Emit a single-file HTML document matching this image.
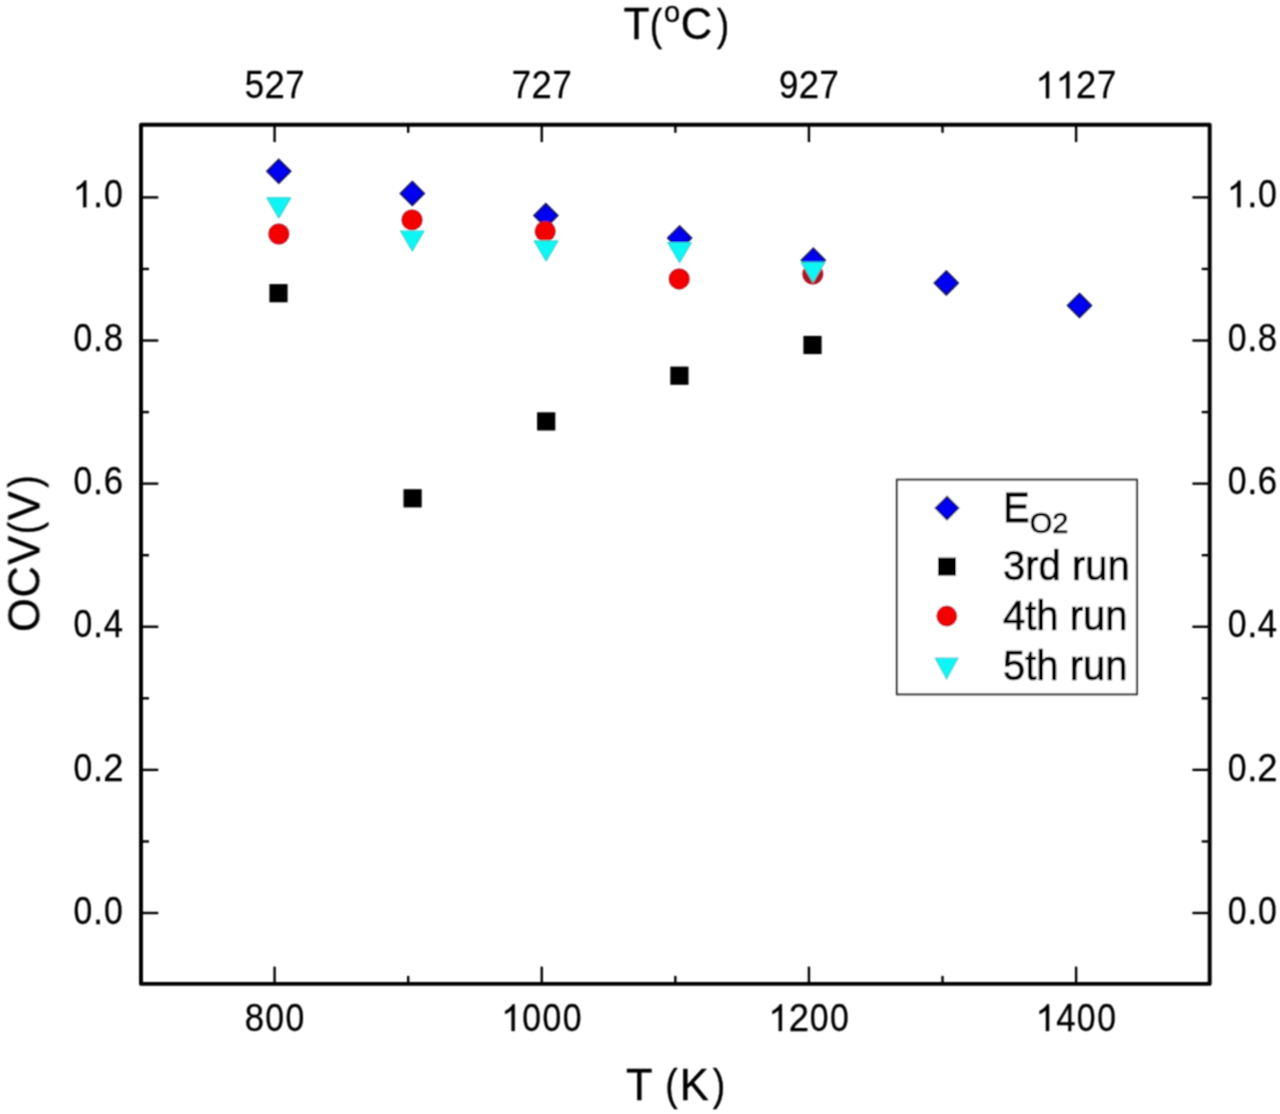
<!DOCTYPE html>
<html><head><meta charset="utf-8"><title>OCV vs T</title>
<style>
html,body{margin:0;padding:0;background:#fff;}
body{width:1280px;height:1114px;overflow:hidden;font-family:"Liberation Sans",sans-serif;}
svg{display:block;}
</style></head><body>
<svg width="1280" height="1114" viewBox="0 0 1280 1114">
<defs><filter id="bl" x="0" y="0" width="1280" height="1114" filterUnits="userSpaceOnUse"><feConvolveMatrix order="3" kernelMatrix="1 2 1 2 4 2 1 2 1" edgeMode="none"/></filter></defs>
<rect width="1280" height="1114" fill="#fff"/>
<g filter="url(#bl)">
<g font-family="Liberation Sans, sans-serif" fill="#000" stroke="#000" stroke-width="0.7">
<g font-size="36.5" stroke-width="0.25">
<g transform="translate(244.14,1031.00) scale(1,1.05)"><text transform="translate(10.15,0) scale(0.95,1)" text-anchor="middle">8</text><text transform="translate(30.45,0) scale(0.925,1)" text-anchor="middle">0</text><text transform="translate(50.75,0) scale(0.925,1)" text-anchor="middle">0</text></g>
<g transform="translate(244.14,98.20) scale(1,1.05)"><text transform="translate(10.15,0) scale(0.95,1)" text-anchor="middle">5</text><text transform="translate(30.45,0) scale(1.0,1)" text-anchor="middle">2</text><text transform="translate(50.75,0) scale(0.95,1)" text-anchor="middle">7</text></g>
<g transform="translate(501.16,1031.00) scale(1,1.05)"><path transform="translate(0.00,0) scale(0.01782,-0.01782)" stroke-width="14.0" d="M763 0L583 0L583 1114C540 1074 483 1035 413 995C342 955 279 925 223 904L223 1073C324 1119 412 1175 487 1241C562 1306 615 1369 646 1430L763 1430Z"/><text transform="translate(30.45,0) scale(0.925,1)" text-anchor="middle">0</text><text transform="translate(50.75,0) scale(0.925,1)" text-anchor="middle">0</text><text transform="translate(71.05,0) scale(0.925,1)" text-anchor="middle">0</text></g>
<g transform="translate(511.31,98.20) scale(1,1.05)"><text transform="translate(10.15,0) scale(0.95,1)" text-anchor="middle">7</text><text transform="translate(30.45,0) scale(1.0,1)" text-anchor="middle">2</text><text transform="translate(50.75,0) scale(0.95,1)" text-anchor="middle">7</text></g>
<g transform="translate(768.34,1031.00) scale(1,1.05)"><path transform="translate(0.00,0) scale(0.01782,-0.01782)" stroke-width="14.0" d="M763 0L583 0L583 1114C540 1074 483 1035 413 995C342 955 279 925 223 904L223 1073C324 1119 412 1175 487 1241C562 1306 615 1369 646 1430L763 1430Z"/><text transform="translate(30.45,0) scale(1.0,1)" text-anchor="middle">2</text><text transform="translate(50.75,0) scale(0.925,1)" text-anchor="middle">0</text><text transform="translate(71.05,0) scale(0.925,1)" text-anchor="middle">0</text></g>
<g transform="translate(778.49,98.20) scale(1,1.05)"><text transform="translate(10.15,0) scale(0.95,1)" text-anchor="middle">9</text><text transform="translate(30.45,0) scale(1.0,1)" text-anchor="middle">2</text><text transform="translate(50.75,0) scale(0.95,1)" text-anchor="middle">7</text></g>
<g transform="translate(1035.51,1031.00) scale(1,1.05)"><path transform="translate(0.00,0) scale(0.01782,-0.01782)" stroke-width="14.0" d="M763 0L583 0L583 1114C540 1074 483 1035 413 995C342 955 279 925 223 904L223 1073C324 1119 412 1175 487 1241C562 1306 615 1369 646 1430L763 1430Z"/><text transform="translate(30.45,0) scale(0.95,1)" text-anchor="middle">4</text><text transform="translate(50.75,0) scale(0.925,1)" text-anchor="middle">0</text><text transform="translate(71.05,0) scale(0.925,1)" text-anchor="middle">0</text></g>
<g transform="translate(1035.51,98.20) scale(1,1.05)"><path transform="translate(0.00,0) scale(0.01782,-0.01782)" stroke-width="14.0" d="M763 0L583 0L583 1114C540 1074 483 1035 413 995C342 955 279 925 223 904L223 1073C324 1119 412 1175 487 1241C562 1306 615 1369 646 1430L763 1430Z"/><path transform="translate(20.30,0) scale(0.01782,-0.01782)" stroke-width="14.0" d="M763 0L583 0L583 1114C540 1074 483 1035 413 995C342 955 279 925 223 904L223 1073C324 1119 412 1175 487 1241C562 1306 615 1369 646 1430L763 1430Z"/><text transform="translate(50.75,0) scale(1.0,1)" text-anchor="middle">2</text><text transform="translate(71.05,0) scale(0.95,1)" text-anchor="middle">7</text></g>
<g transform="translate(72.76,924.10) scale(1,1.05)"><text transform="translate(10.15,0) scale(0.925,1)" text-anchor="middle">0</text><text transform="translate(25.37,0) scale(1.0,1)" text-anchor="middle">.</text><text transform="translate(40.59,0) scale(0.925,1)" text-anchor="middle">0</text></g>
<g transform="translate(1226.90,924.10) scale(1,1.05)"><text transform="translate(10.15,0) scale(0.925,1)" text-anchor="middle">0</text><text transform="translate(25.37,0) scale(1.0,1)" text-anchor="middle">.</text><text transform="translate(40.59,0) scale(0.925,1)" text-anchor="middle">0</text></g>
<g transform="translate(72.76,780.72) scale(1,1.05)"><text transform="translate(10.15,0) scale(0.925,1)" text-anchor="middle">0</text><text transform="translate(25.37,0) scale(1.0,1)" text-anchor="middle">.</text><text transform="translate(40.59,0) scale(1.0,1)" text-anchor="middle">2</text></g>
<g transform="translate(1226.90,780.72) scale(1,1.05)"><text transform="translate(10.15,0) scale(0.925,1)" text-anchor="middle">0</text><text transform="translate(25.37,0) scale(1.0,1)" text-anchor="middle">.</text><text transform="translate(40.59,0) scale(1.0,1)" text-anchor="middle">2</text></g>
<g transform="translate(72.76,637.34) scale(1,1.05)"><text transform="translate(10.15,0) scale(0.925,1)" text-anchor="middle">0</text><text transform="translate(25.37,0) scale(1.0,1)" text-anchor="middle">.</text><text transform="translate(40.59,0) scale(0.95,1)" text-anchor="middle">4</text></g>
<g transform="translate(1226.90,637.34) scale(1,1.05)"><text transform="translate(10.15,0) scale(0.925,1)" text-anchor="middle">0</text><text transform="translate(25.37,0) scale(1.0,1)" text-anchor="middle">.</text><text transform="translate(40.59,0) scale(0.95,1)" text-anchor="middle">4</text></g>
<g transform="translate(72.76,493.96) scale(1,1.05)"><text transform="translate(10.15,0) scale(0.925,1)" text-anchor="middle">0</text><text transform="translate(25.37,0) scale(1.0,1)" text-anchor="middle">.</text><text transform="translate(40.59,0) scale(0.95,1)" text-anchor="middle">6</text></g>
<g transform="translate(1226.90,493.96) scale(1,1.05)"><text transform="translate(10.15,0) scale(0.925,1)" text-anchor="middle">0</text><text transform="translate(25.37,0) scale(1.0,1)" text-anchor="middle">.</text><text transform="translate(40.59,0) scale(0.95,1)" text-anchor="middle">6</text></g>
<g transform="translate(72.76,350.58) scale(1,1.05)"><text transform="translate(10.15,0) scale(0.925,1)" text-anchor="middle">0</text><text transform="translate(25.37,0) scale(1.0,1)" text-anchor="middle">.</text><text transform="translate(40.59,0) scale(0.95,1)" text-anchor="middle">8</text></g>
<g transform="translate(1226.90,350.58) scale(1,1.05)"><text transform="translate(10.15,0) scale(0.925,1)" text-anchor="middle">0</text><text transform="translate(25.37,0) scale(1.0,1)" text-anchor="middle">.</text><text transform="translate(40.59,0) scale(0.95,1)" text-anchor="middle">8</text></g>
<g transform="translate(72.76,207.20) scale(1,1.05)"><path transform="translate(0.00,0) scale(0.01782,-0.01782)" stroke-width="14.0" d="M763 0L583 0L583 1114C540 1074 483 1035 413 995C342 955 279 925 223 904L223 1073C324 1119 412 1175 487 1241C562 1306 615 1369 646 1430L763 1430Z"/><text transform="translate(25.37,0) scale(1.0,1)" text-anchor="middle">.</text><text transform="translate(40.59,0) scale(0.925,1)" text-anchor="middle">0</text></g>
<g transform="translate(1226.90,207.20) scale(1,1.05)"><path transform="translate(0.00,0) scale(0.01782,-0.01782)" stroke-width="14.0" d="M763 0L583 0L583 1114C540 1074 483 1035 413 995C342 955 279 925 223 904L223 1073C324 1119 412 1175 487 1241C562 1306 615 1369 646 1430L763 1430Z"/><text transform="translate(25.37,0) scale(1.0,1)" text-anchor="middle">.</text><text transform="translate(40.59,0) scale(0.925,1)" text-anchor="middle">0</text></g>
</g>
<g stroke-width="0.35">
<g transform="translate(0,39.3) scale(1,1.04)" font-size="43.5"><text transform="translate(636.40,0) scale(0.98,1)" x="-13.28" y="0">T</text><text transform="translate(657.00,1.0) scale(0.86,0.97)" x="-8.46" y="0">(</text><text transform="translate(696.70,0) scale(1.0,1)" x="-15.98" y="0">C</text><text transform="translate(721.90,1.0) scale(0.86,0.97)" x="-6.02" y="0">)</text></g>
<g transform="translate(0,21.5) scale(1,1.04)" font-size="29"><text transform="translate(672.00,0) scale(1.0,1)" x="-8.06" y="0">o</text></g>
<g transform="translate(0,1099.8) scale(1,1.04)" font-size="43.5"><text transform="translate(639.40,0) scale(1.0,1)" x="-13.28" y="0">T</text><text transform="translate(672.60,0) scale(0.86,1)" x="-8.46" y="0">(</text><text transform="translate(695.90,0) scale(1.0,1)" x="-16.05" y="0">K</text><text transform="translate(718.00,0) scale(0.86,1)" x="-6.02" y="0">)</text></g>
<g transform="rotate(-90) translate(0,39.0) scale(1,1.04)" font-size="43.5"><text transform="translate(-615.10,0) scale(1.0,1)" x="-16.91" y="0">O</text><text transform="translate(-581.50,0) scale(1.0,1)" x="-15.98" y="0">C</text><text transform="translate(-550.20,0) scale(1.0,1)" x="-14.51" y="0">V</text><text transform="translate(-527.00,0) scale(0.86,1)" x="-8.46" y="0">(</text><text transform="translate(-505.80,0) scale(1.0,1)" x="-14.51" y="0">V</text><text transform="translate(-482.60,0) scale(0.86,1)" x="-6.02" y="0">)</text></g>
</g>
</g>
<g stroke="#000" stroke-width="2.4">
<rect x="141.0" y="124.8" width="1068.70" height="859.10" fill="none" stroke="#000" stroke-width="3.9" stroke-linejoin="round"/>
<line x1="274.59" y1="983.9" x2="274.59" y2="966.6"/>
<line x1="274.59" y1="124.8" x2="274.59" y2="142.1"/>
<line x1="408.18" y1="983.9" x2="408.18" y2="975.9"/>
<line x1="408.18" y1="124.8" x2="408.18" y2="132.8"/>
<line x1="541.76" y1="983.9" x2="541.76" y2="966.6"/>
<line x1="541.76" y1="124.8" x2="541.76" y2="142.1"/>
<line x1="675.35" y1="983.9" x2="675.35" y2="975.9"/>
<line x1="675.35" y1="124.8" x2="675.35" y2="132.8"/>
<line x1="808.94" y1="983.9" x2="808.94" y2="966.6"/>
<line x1="808.94" y1="124.8" x2="808.94" y2="142.1"/>
<line x1="942.52" y1="983.9" x2="942.52" y2="975.9"/>
<line x1="942.52" y1="124.8" x2="942.52" y2="132.8"/>
<line x1="1076.11" y1="983.9" x2="1076.11" y2="966.6"/>
<line x1="1076.11" y1="124.8" x2="1076.11" y2="142.1"/>
<line x1="141.0" y1="913.00" x2="158.3" y2="913.00"/>
<line x1="1209.7" y1="913.00" x2="1192.4" y2="913.00"/>
<line x1="141.0" y1="841.44" x2="149.0" y2="841.44"/>
<line x1="1209.7" y1="841.44" x2="1201.7" y2="841.44"/>
<line x1="141.0" y1="769.88" x2="158.3" y2="769.88"/>
<line x1="1209.7" y1="769.88" x2="1192.4" y2="769.88"/>
<line x1="141.0" y1="698.32" x2="149.0" y2="698.32"/>
<line x1="1209.7" y1="698.32" x2="1201.7" y2="698.32"/>
<line x1="141.0" y1="626.76" x2="158.3" y2="626.76"/>
<line x1="1209.7" y1="626.76" x2="1192.4" y2="626.76"/>
<line x1="141.0" y1="555.20" x2="149.0" y2="555.20"/>
<line x1="1209.7" y1="555.20" x2="1201.7" y2="555.20"/>
<line x1="141.0" y1="483.64" x2="158.3" y2="483.64"/>
<line x1="1209.7" y1="483.64" x2="1192.4" y2="483.64"/>
<line x1="141.0" y1="412.08" x2="149.0" y2="412.08"/>
<line x1="1209.7" y1="412.08" x2="1201.7" y2="412.08"/>
<line x1="141.0" y1="340.52" x2="158.3" y2="340.52"/>
<line x1="1209.7" y1="340.52" x2="1192.4" y2="340.52"/>
<line x1="141.0" y1="268.96" x2="149.0" y2="268.96"/>
<line x1="1209.7" y1="268.96" x2="1201.7" y2="268.96"/>
<line x1="141.0" y1="197.40" x2="158.3" y2="197.40"/>
<line x1="1209.7" y1="197.40" x2="1192.4" y2="197.40"/>
</g>
<path d="M278.80 159.50L290.60 171.30L278.80 183.10L267.00 171.30Z" fill="#0404f2" stroke="#101060" stroke-width="1.7"/>
<path d="M412.30 181.60L424.10 193.40L412.30 205.20L400.50 193.40Z" fill="#0404f2" stroke="#101060" stroke-width="1.7"/>
<path d="M545.90 203.80L557.70 215.60L545.90 227.40L534.10 215.60Z" fill="#0404f2" stroke="#101060" stroke-width="1.7"/>
<path d="M679.60 226.20L691.40 238.00L679.60 249.80L667.80 238.00Z" fill="#0404f2" stroke="#101060" stroke-width="1.7"/>
<path d="M813.30 248.40L825.10 260.20L813.30 272.00L801.50 260.20Z" fill="#0404f2" stroke="#101060" stroke-width="1.7"/>
<path d="M946.30 271.10L958.10 282.90L946.30 294.70L934.50 282.90Z" fill="#0404f2" stroke="#101060" stroke-width="1.7"/>
<path d="M1079.50 293.70L1091.30 305.50L1079.50 317.30L1067.70 305.50Z" fill="#0404f2" stroke="#101060" stroke-width="1.7"/>
<rect x="269.40" y="284.10" width="18.2" height="18.2" fill="#000"/>
<rect x="403.50" y="489.20" width="18.2" height="18.2" fill="#000"/>
<rect x="537.10" y="412.30" width="18.2" height="18.2" fill="#000"/>
<rect x="670.30" y="366.60" width="18.2" height="18.2" fill="#000"/>
<rect x="803.40" y="335.90" width="18.2" height="18.2" fill="#000"/>
<circle cx="278.80" cy="234.00" r="9.85" fill="#f40606" stroke="#b8101c" stroke-width="1.3"/>
<circle cx="412.00" cy="219.90" r="9.85" fill="#f40606" stroke="#b8101c" stroke-width="1.3"/>
<circle cx="545.20" cy="231.30" r="9.85" fill="#f40606" stroke="#b8101c" stroke-width="1.3"/>
<circle cx="679.20" cy="278.90" r="9.85" fill="#f40606" stroke="#b8101c" stroke-width="1.3"/>
<circle cx="812.80" cy="274.00" r="9.85" fill="#a8182a" stroke="#b8101c" stroke-width="1.3"/>
<path d="M267.02 197.85L290.58 197.85L278.80 217.85Z" fill="#08f6f6" stroke="#36d2d2" stroke-width="1.2" stroke-linejoin="round"/>
<path d="M400.52 231.00L424.08 231.00L412.30 251.00Z" fill="#08f6f6" stroke="#36d2d2" stroke-width="1.2" stroke-linejoin="round"/>
<path d="M534.32 240.95L557.88 240.95L546.10 260.95Z" fill="#08f6f6" stroke="#36d2d2" stroke-width="1.2" stroke-linejoin="round"/>
<path d="M667.82 242.55L691.38 242.55L679.60 262.55Z" fill="#08f6f6" stroke="#36d2d2" stroke-width="1.2" stroke-linejoin="round"/>
<path d="M801.22 262.15L824.78 262.15L813.00 282.15Z" fill="#08f6f6" stroke="#36d2d2" stroke-width="1.2" stroke-linejoin="round"/>
<rect x="896.9" y="479.7" width="240" height="214.6" fill="#fff" stroke="#333" stroke-width="2.0"/>
<path d="M947.00 496.60L958.50 508.10L947.00 519.60L935.50 508.10Z" fill="#0404f2" stroke="#101060" stroke-width="1.7"/>
<rect x="938.00" y="557.60" width="18.0" height="18.0" fill="#000"/>
<circle cx="946.80" cy="616.10" r="9.85" fill="#f40606" stroke="#b8101c" stroke-width="1.3"/>
<path d="M935.22 658.20L957.98 658.20L946.60 679.20Z" fill="#08f6f6" stroke="#36d2d2" stroke-width="1.2" stroke-linejoin="round"/>
<g font-family="Liberation Sans, sans-serif" fill="#000" stroke="#000" stroke-width="0.7" font-size="40">
<g transform="translate(1003,521.9) scale(1,1.075)"><text x="0" y="0">E</text></g>
<g transform="translate(1029.7,532.9) scale(1,1.04)"><text x="0" y="0" font-size="29">O2</text></g>
<g transform="translate(1003,580.4) scale(1,1.04)"><text x="0" y="0">3rd run</text></g>
<g transform="translate(1003,630.0) scale(1,1.04)"><text x="0" y="0">4th run</text></g>
<g transform="translate(1003,680.2) scale(1,1.04)"><text x="0" y="0">5th run</text></g>
</g>
</g>
</svg>
</body></html>
